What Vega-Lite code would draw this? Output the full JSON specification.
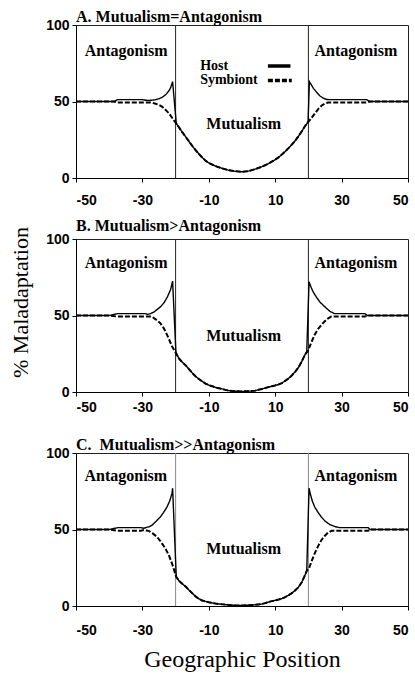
{
  "$schema": "https://vega.github.io/schema/vega-lite/v6.json",
  "padding": {"left": 9, "top": 8, "right": 0, "bottom": 0},
  "background": "white",
  "spacing": 61,
  "bounds": "flush",
  "config": {
    "view": {"stroke": "#222", "strokeWidth": 1},
    "axis": {
      "grid": false,
      "labelFont": "Liberation Sans",
      "labelFontWeight": "bold",
      "labelFontSize": 14,
      "labelColor": "#000",
      "labelOverlap": false,
      "labelExpr": "'' + datum.value",
      "tickSize": 4,
      "tickColor": "#000",
      "domainColor": "#000",
      "labelPadding": 3,
      "titleFont": "Liberation Serif",
      "titleFontWeight": "normal",
      "titleColor": "#000"
    },
    "title": {"font": "Liberation Serif", "fontSize": 16, "fontWeight": "bold", "anchor": "start", "frame": "group", "color": "#000", "offset": -7}
  },
  "datasets": {
    "curves": [
      {"p":"A","s":"Host","x":-50,"y":50},{"p":"A","s":"Host","x":-38.5,"y":50},{"p":"A","s":"Host","x":-37.5,"y":51.2},{"p":"A","s":"Host","x":-30,"y":51.2},{"p":"A","s":"Host","x":-29,"y":50.8},{"p":"A","s":"Host","x":-28,"y":50.7},{"p":"A","s":"Host","x":-27,"y":50.9},{"p":"A","s":"Host","x":-26,"y":51.2},{"p":"A","s":"Host","x":-25,"y":51.8},{"p":"A","s":"Host","x":-24,"y":52.8},{"p":"A","s":"Host","x":-23,"y":54.4},{"p":"A","s":"Host","x":-22,"y":57},{"p":"A","s":"Host","x":-21.5,"y":59},{"p":"A","s":"Host","x":-20.9,"y":63},
      {"p":"A","s":"Host","x":-19.8,"y":35.7},{"p":"A","s":"Host","x":-18,"y":30},{"p":"A","s":"Host","x":-17,"y":27},{"p":"A","s":"Host","x":-16,"y":24},{"p":"A","s":"Host","x":-15,"y":21},{"p":"A","s":"Host","x":-14,"y":18.3},{"p":"A","s":"Host","x":-13,"y":15.8},{"p":"A","s":"Host","x":-12,"y":13.4},{"p":"A","s":"Host","x":-11,"y":11.4},{"p":"A","s":"Host","x":-10,"y":9.8},{"p":"A","s":"Host","x":-8,"y":7.8},{"p":"A","s":"Host","x":-6,"y":6.3},{"p":"A","s":"Host","x":-4,"y":5.1},{"p":"A","s":"Host","x":-2,"y":4.4},{"p":"A","s":"Host","x":0,"y":4.1},{"p":"A","s":"Host","x":2,"y":4.5},{"p":"A","s":"Host","x":4,"y":5.8},{"p":"A","s":"Host","x":6,"y":7.4},{"p":"A","s":"Host","x":8,"y":9.4},{"p":"A","s":"Host","x":10,"y":12},{"p":"A","s":"Host","x":11,"y":13.5},{"p":"A","s":"Host","x":12,"y":15.3},{"p":"A","s":"Host","x":13,"y":17.3},{"p":"A","s":"Host","x":14,"y":19.5},{"p":"A","s":"Host","x":15,"y":21.8},{"p":"A","s":"Host","x":16,"y":24.3},{"p":"A","s":"Host","x":17,"y":27.3},{"p":"A","s":"Host","x":18,"y":30.5},{"p":"A","s":"Host","x":19,"y":34},{"p":"A","s":"Host","x":19.9,"y":36.5},
      {"p":"A","s":"Host","x":20.3,"y":63},{"p":"A","s":"Host","x":21,"y":60.5},{"p":"A","s":"Host","x":21.5,"y":58.6},{"p":"A","s":"Host","x":22.5,"y":56},{"p":"A","s":"Host","x":23.5,"y":53.6},{"p":"A","s":"Host","x":24.5,"y":52.2},{"p":"A","s":"Host","x":25.5,"y":51.3},{"p":"A","s":"Host","x":27,"y":51.2},{"p":"A","s":"Host","x":37.5,"y":51.2},{"p":"A","s":"Host","x":38.5,"y":50},{"p":"A","s":"Host","x":50,"y":50},

      {"p":"A","s":"Symbiont","x":-50,"y":50},{"p":"A","s":"Symbiont","x":-38.5,"y":50},{"p":"A","s":"Symbiont","x":-37.5,"y":49.3},{"p":"A","s":"Symbiont","x":-29,"y":49.3},{"p":"A","s":"Symbiont","x":-28,"y":49.4},{"p":"A","s":"Symbiont","x":-27,"y":49.2},{"p":"A","s":"Symbiont","x":-26,"y":48.5},{"p":"A","s":"Symbiont","x":-25,"y":47.8},{"p":"A","s":"Symbiont","x":-24,"y":46.5},{"p":"A","s":"Symbiont","x":-23,"y":44.5},{"p":"A","s":"Symbiont","x":-22,"y":42.3},{"p":"A","s":"Symbiont","x":-21,"y":39.2},{"p":"A","s":"Symbiont","x":-20.6,"y":37.9},
      {"p":"A","s":"Symbiont","x":-19.8,"y":35.7},{"p":"A","s":"Symbiont","x":-18,"y":30},{"p":"A","s":"Symbiont","x":-17,"y":27},{"p":"A","s":"Symbiont","x":-16,"y":24},{"p":"A","s":"Symbiont","x":-15,"y":21},{"p":"A","s":"Symbiont","x":-14,"y":18.3},{"p":"A","s":"Symbiont","x":-13,"y":15.8},{"p":"A","s":"Symbiont","x":-12,"y":13.4},{"p":"A","s":"Symbiont","x":-11,"y":11.4},{"p":"A","s":"Symbiont","x":-10,"y":9.8},{"p":"A","s":"Symbiont","x":-8,"y":7.8},{"p":"A","s":"Symbiont","x":-6,"y":6.3},{"p":"A","s":"Symbiont","x":-4,"y":5.1},{"p":"A","s":"Symbiont","x":-2,"y":4.4},{"p":"A","s":"Symbiont","x":0,"y":4.1},{"p":"A","s":"Symbiont","x":2,"y":4.5},{"p":"A","s":"Symbiont","x":4,"y":5.8},{"p":"A","s":"Symbiont","x":6,"y":7.4},{"p":"A","s":"Symbiont","x":8,"y":9.4},{"p":"A","s":"Symbiont","x":10,"y":12},{"p":"A","s":"Symbiont","x":11,"y":13.5},{"p":"A","s":"Symbiont","x":12,"y":15.3},{"p":"A","s":"Symbiont","x":13,"y":17.3},{"p":"A","s":"Symbiont","x":14,"y":19.5},{"p":"A","s":"Symbiont","x":15,"y":21.8},{"p":"A","s":"Symbiont","x":16,"y":24.3},{"p":"A","s":"Symbiont","x":17,"y":27.3},{"p":"A","s":"Symbiont","x":18,"y":30.5},{"p":"A","s":"Symbiont","x":19,"y":34},{"p":"A","s":"Symbiont","x":19.9,"y":36.5},
      {"p":"A","s":"Symbiont","x":20.3,"y":37.5},{"p":"A","s":"Symbiont","x":21,"y":39.5},{"p":"A","s":"Symbiont","x":22,"y":42.3},{"p":"A","s":"Symbiont","x":23,"y":45.2},{"p":"A","s":"Symbiont","x":24,"y":47.3},{"p":"A","s":"Symbiont","x":25,"y":48.8},{"p":"A","s":"Symbiont","x":26,"y":49.4},{"p":"A","s":"Symbiont","x":27,"y":49.3},{"p":"A","s":"Symbiont","x":37.5,"y":49.3},{"p":"A","s":"Symbiont","x":38.5,"y":50},{"p":"A","s":"Symbiont","x":50,"y":50},

      {"p":"B","s":"Host","x":-50,"y":50},{"p":"B","s":"Host","x":-40,"y":50},{"p":"B","s":"Host","x":-37.5,"y":51.2},{"p":"B","s":"Host","x":-29,"y":51.2},{"p":"B","s":"Host","x":-28.5,"y":50.7},{"p":"B","s":"Host","x":-27.5,"y":51.3},{"p":"B","s":"Host","x":-26.5,"y":52.3},{"p":"B","s":"Host","x":-25.5,"y":54},{"p":"B","s":"Host","x":-24.5,"y":55.8},{"p":"B","s":"Host","x":-23.5,"y":58.3},{"p":"B","s":"Host","x":-22.5,"y":62},{"p":"B","s":"Host","x":-21.5,"y":67},{"p":"B","s":"Host","x":-20.9,"y":72.5},
      {"p":"B","s":"Host","x":-19.9,"y":25.5},{"p":"B","s":"Host","x":-19,"y":22},{"p":"B","s":"Host","x":-18,"y":19.5},{"p":"B","s":"Host","x":-17,"y":17.5},{"p":"B","s":"Host","x":-16,"y":15},{"p":"B","s":"Host","x":-15,"y":12.5},{"p":"B","s":"Host","x":-14,"y":10.3},{"p":"B","s":"Host","x":-13,"y":8.5},{"p":"B","s":"Host","x":-12,"y":7},{"p":"B","s":"Host","x":-11,"y":5.5},{"p":"B","s":"Host","x":-10,"y":4.5},{"p":"B","s":"Host","x":-9,"y":3.8},{"p":"B","s":"Host","x":-8,"y":3},{"p":"B","s":"Host","x":-7,"y":2.5},{"p":"B","s":"Host","x":-6,"y":2},{"p":"B","s":"Host","x":-5,"y":1.4},{"p":"B","s":"Host","x":-4,"y":0.9},{"p":"B","s":"Host","x":-2,"y":0.5},{"p":"B","s":"Host","x":0,"y":0.4},{"p":"B","s":"Host","x":2,"y":0.5},{"p":"B","s":"Host","x":4,"y":0.9},{"p":"B","s":"Host","x":5,"y":1.5},{"p":"B","s":"Host","x":6,"y":2},{"p":"B","s":"Host","x":7,"y":2.6},{"p":"B","s":"Host","x":8,"y":3.2},{"p":"B","s":"Host","x":9,"y":3.8},{"p":"B","s":"Host","x":10,"y":4.3},{"p":"B","s":"Host","x":11,"y":4.9},{"p":"B","s":"Host","x":12,"y":5.8},{"p":"B","s":"Host","x":13,"y":7.3},{"p":"B","s":"Host","x":14,"y":8.8},{"p":"B","s":"Host","x":15,"y":10.8},{"p":"B","s":"Host","x":16,"y":13.2},{"p":"B","s":"Host","x":17,"y":16},{"p":"B","s":"Host","x":18,"y":20},{"p":"B","s":"Host","x":19,"y":24.5},{"p":"B","s":"Host","x":19.5,"y":26},
      {"p":"B","s":"Host","x":20.2,"y":72},{"p":"B","s":"Host","x":20.8,"y":68.5},{"p":"B","s":"Host","x":21.4,"y":65.6},{"p":"B","s":"Host","x":22.4,"y":62},{"p":"B","s":"Host","x":23.4,"y":59},{"p":"B","s":"Host","x":24.4,"y":56.8},{"p":"B","s":"Host","x":25.4,"y":54.8},{"p":"B","s":"Host","x":26.5,"y":52.7},{"p":"B","s":"Host","x":27.9,"y":51.2},{"p":"B","s":"Host","x":37,"y":51.2},{"p":"B","s":"Host","x":37.8,"y":50},{"p":"B","s":"Host","x":50,"y":50},

      {"p":"B","s":"Symbiont","x":-50,"y":50},{"p":"B","s":"Symbiont","x":-40,"y":50},{"p":"B","s":"Symbiont","x":-37.5,"y":49.3},{"p":"B","s":"Symbiont","x":-29,"y":49.3},{"p":"B","s":"Symbiont","x":-28,"y":49.4},{"p":"B","s":"Symbiont","x":-27.1,"y":49.2},{"p":"B","s":"Symbiont","x":-26,"y":47.5},{"p":"B","s":"Symbiont","x":-24.6,"y":45},{"p":"B","s":"Symbiont","x":-23.5,"y":41.5},{"p":"B","s":"Symbiont","x":-22.6,"y":37.5},{"p":"B","s":"Symbiont","x":-21.8,"y":33.5},{"p":"B","s":"Symbiont","x":-21.1,"y":29.9},
      {"p":"B","s":"Symbiont","x":-19.9,"y":25.5},{"p":"B","s":"Symbiont","x":-19,"y":22},{"p":"B","s":"Symbiont","x":-18,"y":19.5},{"p":"B","s":"Symbiont","x":-17,"y":17.5},{"p":"B","s":"Symbiont","x":-16,"y":15},{"p":"B","s":"Symbiont","x":-15,"y":12.5},{"p":"B","s":"Symbiont","x":-14,"y":10.3},{"p":"B","s":"Symbiont","x":-13,"y":8.5},{"p":"B","s":"Symbiont","x":-12,"y":7},{"p":"B","s":"Symbiont","x":-11,"y":5.5},{"p":"B","s":"Symbiont","x":-10,"y":4.5},{"p":"B","s":"Symbiont","x":-9,"y":3.8},{"p":"B","s":"Symbiont","x":-8,"y":3},{"p":"B","s":"Symbiont","x":-7,"y":2.5},{"p":"B","s":"Symbiont","x":-6,"y":2},{"p":"B","s":"Symbiont","x":-5,"y":1.4},{"p":"B","s":"Symbiont","x":-4,"y":0.9},{"p":"B","s":"Symbiont","x":-2,"y":0.5},{"p":"B","s":"Symbiont","x":0,"y":0.4},{"p":"B","s":"Symbiont","x":2,"y":0.5},{"p":"B","s":"Symbiont","x":4,"y":0.9},{"p":"B","s":"Symbiont","x":5,"y":1.5},{"p":"B","s":"Symbiont","x":6,"y":2},{"p":"B","s":"Symbiont","x":7,"y":2.6},{"p":"B","s":"Symbiont","x":8,"y":3.2},{"p":"B","s":"Symbiont","x":9,"y":3.8},{"p":"B","s":"Symbiont","x":10,"y":4.3},{"p":"B","s":"Symbiont","x":11,"y":4.9},{"p":"B","s":"Symbiont","x":12,"y":5.8},{"p":"B","s":"Symbiont","x":13,"y":7.3},{"p":"B","s":"Symbiont","x":14,"y":8.8},{"p":"B","s":"Symbiont","x":15,"y":10.8},{"p":"B","s":"Symbiont","x":16,"y":13.2},{"p":"B","s":"Symbiont","x":17,"y":16},{"p":"B","s":"Symbiont","x":18,"y":20},{"p":"B","s":"Symbiont","x":19,"y":24.5},{"p":"B","s":"Symbiont","x":19.5,"y":26},
      {"p":"B","s":"Symbiont","x":19.9,"y":27},{"p":"B","s":"Symbiont","x":20.9,"y":32.5},{"p":"B","s":"Symbiont","x":21.9,"y":37.5},{"p":"B","s":"Symbiont","x":23,"y":41.5},{"p":"B","s":"Symbiont","x":24.4,"y":45},{"p":"B","s":"Symbiont","x":25.5,"y":47.5},{"p":"B","s":"Symbiont","x":26.9,"y":49.3},{"p":"B","s":"Symbiont","x":28.9,"y":49.3},{"p":"B","s":"Symbiont","x":37,"y":49.3},{"p":"B","s":"Symbiont","x":37.8,"y":50},{"p":"B","s":"Symbiont","x":50,"y":50},

      {"p":"C","s":"Host","x":-50,"y":50},{"p":"C","s":"Host","x":-40,"y":50},{"p":"C","s":"Host","x":-37.4,"y":51.2},{"p":"C","s":"Host","x":-30.4,"y":51.2},{"p":"C","s":"Host","x":-29.6,"y":50.8},{"p":"C","s":"Host","x":-28,"y":51.8},{"p":"C","s":"Host","x":-27.1,"y":52.8},{"p":"C","s":"Host","x":-25.8,"y":55.5},{"p":"C","s":"Host","x":-24.6,"y":58.2},{"p":"C","s":"Host","x":-23.6,"y":61.2},{"p":"C","s":"Host","x":-22.6,"y":64.7},{"p":"C","s":"Host","x":-21.8,"y":68.5},{"p":"C","s":"Host","x":-21.1,"y":73.4},{"p":"C","s":"Host","x":-20.9,"y":77},
      {"p":"C","s":"Host","x":-19.8,"y":19},{"p":"C","s":"Host","x":-19,"y":16.5},{"p":"C","s":"Host","x":-18,"y":14.5},{"p":"C","s":"Host","x":-17,"y":12.8},{"p":"C","s":"Host","x":-16,"y":10.5},{"p":"C","s":"Host","x":-15,"y":8.4},{"p":"C","s":"Host","x":-14,"y":6.3},{"p":"C","s":"Host","x":-13,"y":4.7},{"p":"C","s":"Host","x":-12,"y":3.6},{"p":"C","s":"Host","x":-11,"y":3},{"p":"C","s":"Host","x":-10,"y":2.4},{"p":"C","s":"Host","x":-8,"y":1.6},{"p":"C","s":"Host","x":-6,"y":1.1},{"p":"C","s":"Host","x":-4,"y":0.7},{"p":"C","s":"Host","x":-2,"y":0.4},{"p":"C","s":"Host","x":0,"y":0.3},{"p":"C","s":"Host","x":2,"y":0.5},{"p":"C","s":"Host","x":4,"y":0.8},{"p":"C","s":"Host","x":6,"y":1.3},{"p":"C","s":"Host","x":7,"y":1.9},{"p":"C","s":"Host","x":8,"y":2.6},{"p":"C","s":"Host","x":9,"y":3.2},{"p":"C","s":"Host","x":10,"y":3.7},{"p":"C","s":"Host","x":11,"y":4.2},{"p":"C","s":"Host","x":12,"y":4.8},{"p":"C","s":"Host","x":13,"y":5.8},{"p":"C","s":"Host","x":14,"y":7},{"p":"C","s":"Host","x":15,"y":8.4},{"p":"C","s":"Host","x":16,"y":10.2},{"p":"C","s":"Host","x":17,"y":12.3},{"p":"C","s":"Host","x":18,"y":15.5},{"p":"C","s":"Host","x":18.8,"y":19.3},{"p":"C","s":"Host","x":19.5,"y":23},
      {"p":"C","s":"Host","x":20.2,"y":77},{"p":"C","s":"Host","x":20.6,"y":73},{"p":"C","s":"Host","x":21.2,"y":68.5},{"p":"C","s":"Host","x":21.9,"y":64.7},{"p":"C","s":"Host","x":22.9,"y":61.2},{"p":"C","s":"Host","x":23.9,"y":58.2},{"p":"C","s":"Host","x":25,"y":55.5},{"p":"C","s":"Host","x":26.4,"y":53.3},{"p":"C","s":"Host","x":28,"y":51.9},{"p":"C","s":"Host","x":29.4,"y":51.2},{"p":"C","s":"Host","x":38,"y":51.2},{"p":"C","s":"Host","x":38.6,"y":50},{"p":"C","s":"Host","x":50,"y":50},

      {"p":"C","s":"Symbiont","x":-50,"y":50},{"p":"C","s":"Symbiont","x":-40,"y":50},{"p":"C","s":"Symbiont","x":-37.4,"y":49.2},{"p":"C","s":"Symbiont","x":-30.4,"y":49.2},{"p":"C","s":"Symbiont","x":-29.6,"y":49.6},{"p":"C","s":"Symbiont","x":-28.1,"y":49.1},{"p":"C","s":"Symbiont","x":-27,"y":47.6},{"p":"C","s":"Symbiont","x":-25.6,"y":45.2},{"p":"C","s":"Symbiont","x":-24.4,"y":41.8},{"p":"C","s":"Symbiont","x":-23.1,"y":37.7},{"p":"C","s":"Symbiont","x":-22,"y":33},{"p":"C","s":"Symbiont","x":-21.1,"y":27.9},{"p":"C","s":"Symbiont","x":-20.3,"y":22.5},
      {"p":"C","s":"Symbiont","x":-19.8,"y":19},{"p":"C","s":"Symbiont","x":-19,"y":16.5},{"p":"C","s":"Symbiont","x":-18,"y":14.5},{"p":"C","s":"Symbiont","x":-17,"y":12.8},{"p":"C","s":"Symbiont","x":-16,"y":10.5},{"p":"C","s":"Symbiont","x":-15,"y":8.4},{"p":"C","s":"Symbiont","x":-14,"y":6.3},{"p":"C","s":"Symbiont","x":-13,"y":4.7},{"p":"C","s":"Symbiont","x":-12,"y":3.6},{"p":"C","s":"Symbiont","x":-11,"y":3},{"p":"C","s":"Symbiont","x":-10,"y":2.4},{"p":"C","s":"Symbiont","x":-8,"y":1.6},{"p":"C","s":"Symbiont","x":-6,"y":1.1},{"p":"C","s":"Symbiont","x":-4,"y":0.7},{"p":"C","s":"Symbiont","x":-2,"y":0.4},{"p":"C","s":"Symbiont","x":0,"y":0.3},{"p":"C","s":"Symbiont","x":2,"y":0.5},{"p":"C","s":"Symbiont","x":4,"y":0.8},{"p":"C","s":"Symbiont","x":6,"y":1.3},{"p":"C","s":"Symbiont","x":7,"y":1.9},{"p":"C","s":"Symbiont","x":8,"y":2.6},{"p":"C","s":"Symbiont","x":9,"y":3.2},{"p":"C","s":"Symbiont","x":10,"y":3.7},{"p":"C","s":"Symbiont","x":11,"y":4.2},{"p":"C","s":"Symbiont","x":12,"y":4.8},{"p":"C","s":"Symbiont","x":13,"y":5.8},{"p":"C","s":"Symbiont","x":14,"y":7},{"p":"C","s":"Symbiont","x":15,"y":8.4},{"p":"C","s":"Symbiont","x":16,"y":10.2},{"p":"C","s":"Symbiont","x":17,"y":12.3},{"p":"C","s":"Symbiont","x":18,"y":15.5},{"p":"C","s":"Symbiont","x":18.8,"y":19.3},{"p":"C","s":"Symbiont","x":19.5,"y":23},
      {"p":"C","s":"Symbiont","x":20.2,"y":24.7},{"p":"C","s":"Symbiont","x":21,"y":29.5},{"p":"C","s":"Symbiont","x":21.9,"y":34.4},{"p":"C","s":"Symbiont","x":22.9,"y":39},{"p":"C","s":"Symbiont","x":23.9,"y":43},{"p":"C","s":"Symbiont","x":24.9,"y":45.8},{"p":"C","s":"Symbiont","x":25.9,"y":47.9},{"p":"C","s":"Symbiont","x":27,"y":49.2},{"p":"C","s":"Symbiont","x":29.4,"y":49.2},{"p":"C","s":"Symbiont","x":38,"y":49.2},{"p":"C","s":"Symbiont","x":38.6,"y":50},{"p":"C","s":"Symbiont","x":50,"y":50}
    ],
    "labels": [
      {"p":"A","t":"Antagonism","x":-34.9,"y":83},{"p":"A","t":"Antagonism","x":34.3,"y":83},{"p":"A","t":"Mutualism","x":0.5,"y":35},
      {"p":"B","t":"Antagonism","x":-34.9,"y":84.6},{"p":"B","t":"Antagonism","x":34.3,"y":84.6},{"p":"B","t":"Mutualism","x":0.5,"y":36.8},
      {"p":"C","t":"Antagonism","x":-35,"y":85},{"p":"C","t":"Antagonism","x":34.3,"y":85},{"p":"C","t":"Mutualism","x":0.5,"y":37}
    ],
    "bounds": [{"x": -20}, {"x": 20}],
    "legend": [
      {"s":"Host","x":-12.6,"x1":7.8,"x2":14.6,"y":73.2},
      {"s":"Symbiont","x":-12.6,"x1":7.8,"x2":15,"y":63.8}
    ]
  },
  "vconcat": [
    {
      "title": {"text": "A. Mutualism=Antagonism"},
      "width": 332, "height": 153,
      "layer": [
        {"data": {"name": "bounds"}, "mark": {"type": "rule", "color": "#222", "strokeWidth": 1},
         "encoding": {"x": {"field": "x", "type": "quantitative", "scale": {"domain": [-50, 50], "nice": false, "zero": false}, "axis": {"values": [-50,-40,-30,-20,-10,0,10,20,30,40,50], "title": null, "labelPadding": 11}}}},
        {"data": {"name": "curves"}, "transform": [{"filter": "datum.p == 'A'"}], "mark": {"type": "line", "color": "#000"},
         "encoding": {
           "x": {"field": "x", "type": "quantitative"},
           "y": {"field": "y", "type": "quantitative", "scale": {"domain": [0, 100], "nice": false}, "axis": {"values": [0,25,50,75,100], "title": null}},
           "detail": {"field": "s"},
           "strokeDash": {"field": "s", "type": "nominal", "scale": {"domain": ["Host","Symbiont"], "range": [[1,0],[5,2]]}, "legend": null},
           "strokeWidth": {"field": "s", "type": "nominal", "scale": {"domain": ["Host","Symbiont"], "range": [1.4, 2]}, "legend": null}
         }},
        {"data": {"name": "labels"}, "transform": [{"filter": "datum.p == 'A'"}], "mark": {"type": "text", "font": "Liberation Serif", "fontWeight": "bold", "fontSize": 16, "color": "#000", "baseline": "middle"},
         "encoding": {"x": {"field": "x", "type": "quantitative"}, "y": {"field": "y", "type": "quantitative"}, "text": {"field": "t"}}},
        {"data": {"name": "legend"}, "mark": {"type": "text", "font": "Liberation Serif", "fontWeight": "bold", "fontSize": 14, "color": "#000", "align": "left", "baseline": "middle"},
         "encoding": {"x": {"field": "x", "type": "quantitative"}, "y": {"field": "y", "type": "quantitative"}, "text": {"field": "s"}}},
        {"data": {"name": "legend"}, "mark": {"type": "rule", "color": "#000", "strokeWidth": 3.5},
         "encoding": {"x": {"field": "x1", "type": "quantitative"}, "x2": {"field": "x2"}, "y": {"field": "y", "type": "quantitative"},
           "strokeDash": {"field": "s", "type": "nominal", "scale": {"domain": ["Host","Symbiont"], "range": [[1,0],[3,2]]}, "legend": null}}}
      ]
    },
    {
      "title": {"text": "B. Mutualism>Antagonism"},
      "width": 332, "height": 153,
      "layer": [
        {"data": {"name": "bounds"}, "mark": {"type": "rule", "color": "#222", "strokeWidth": 1},
         "encoding": {"x": {"field": "x", "type": "quantitative", "scale": {"domain": [-50, 50], "nice": false, "zero": false}, "axis": {"values": [-50,-40,-30,-20,-10,0,10,20,30,40,50], "title": null, "labelPadding": 4}}}},
        {"data": {"name": "curves"}, "transform": [{"filter": "datum.p == 'B'"}], "mark": {"type": "line", "color": "#000"},
         "encoding": {
           "x": {"field": "x", "type": "quantitative"},
           "y": {"field": "y", "type": "quantitative", "scale": {"domain": [0, 100], "nice": false}, "axis": {"values": [0,25,50,75,100], "title": "% Maladaptation", "titleFontSize": 22, "titlePadding": 13, "titleY": 63}},
           "detail": {"field": "s"},
           "strokeDash": {"field": "s", "type": "nominal", "scale": {"domain": ["Host","Symbiont"], "range": [[1,0],[5,2]]}, "legend": null},
           "strokeWidth": {"field": "s", "type": "nominal", "scale": {"domain": ["Host","Symbiont"], "range": [1.4, 2]}, "legend": null}
         }},
        {"data": {"name": "labels"}, "transform": [{"filter": "datum.p == 'B'"}], "mark": {"type": "text", "font": "Liberation Serif", "fontWeight": "bold", "fontSize": 16, "color": "#000", "baseline": "middle"},
         "encoding": {"x": {"field": "x", "type": "quantitative"}, "y": {"field": "y", "type": "quantitative"}, "text": {"field": "t"}}}
      ]
    },
    {
      "title": {"text": "C.\u00a0 Mutualism>>Antagonism"},
      "width": 332, "height": 153,
      "layer": [
        {"data": {"name": "bounds"}, "mark": {"type": "rule", "color": "#888", "strokeWidth": 1},
         "encoding": {"x": {"field": "x", "type": "quantitative", "scale": {"domain": [-50, 50], "nice": false, "zero": false}, "axis": {"values": [-50,-40,-30,-20,-10,0,10,20,30,40,50], "title": "Geographic Position", "titleFontSize": 24, "titlePadding": 10, "labelPadding": 13}}}},
        {"data": {"name": "curves"}, "transform": [{"filter": "datum.p == 'C'"}], "mark": {"type": "line", "color": "#000"},
         "encoding": {
           "x": {"field": "x", "type": "quantitative"},
           "y": {"field": "y", "type": "quantitative", "scale": {"domain": [0, 100], "nice": false}, "axis": {"values": [0,25,50,75,100], "title": null}},
           "detail": {"field": "s"},
           "strokeDash": {"field": "s", "type": "nominal", "scale": {"domain": ["Host","Symbiont"], "range": [[1,0],[5,2]]}, "legend": null},
           "strokeWidth": {"field": "s", "type": "nominal", "scale": {"domain": ["Host","Symbiont"], "range": [1.4, 2]}, "legend": null}
         }},
        {"data": {"name": "labels"}, "transform": [{"filter": "datum.p == 'C'"}], "mark": {"type": "text", "font": "Liberation Serif", "fontWeight": "bold", "fontSize": 16, "color": "#000", "baseline": "middle"},
         "encoding": {"x": {"field": "x", "type": "quantitative"}, "y": {"field": "y", "type": "quantitative"}, "text": {"field": "t"}}}
      ]
    }
  ]
}
